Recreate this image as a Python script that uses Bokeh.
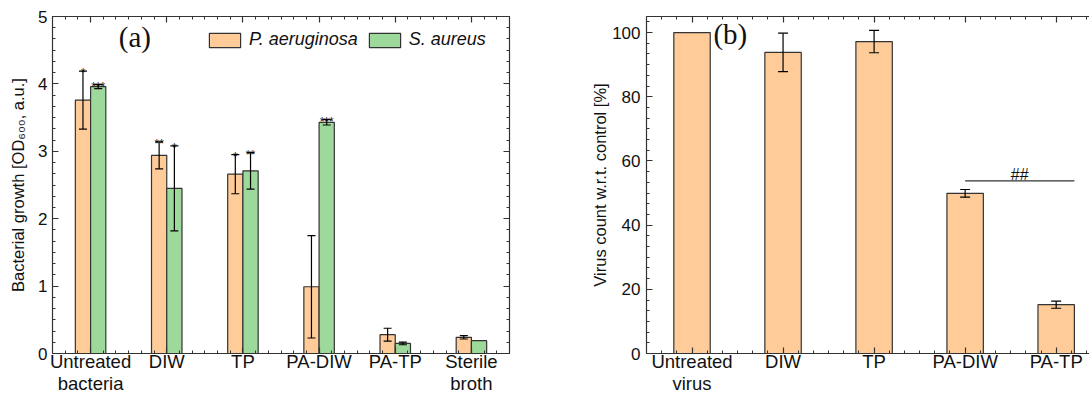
import numpy as np
from bokeh.plotting import figure
from bokeh.models import (ColumnDataSource, Range1d, SingleIntervalTicker, LinearAxis,
                          Whisker, TeeHead, Legend, LegendItem, Label,
                          CustomJSTickFormatter)
from bokeh.layouts import row
from bokeh.embed import file_html
from bokeh.resources import INLINE
from bokeh.core.properties import value

# ---------------- data: panel (a) ----------------
categories_a = ["Untreated\nbacteria", "DIW", "TP", "PA-DIW", "PA-TP", "Sterile\nbroth"]
pa_mean = [3.76, 2.94, 2.66, 0.99, 0.28, 0.24]
pa_err = [0.43, 0.20, 0.29, 0.76, 0.095, 0.025]
pa_stars = ["*", "**", "*", "", "", ""]
sa_mean = [3.96, 2.45, 2.71, 3.43, 0.15, 0.19]
sa_err = [0.03, 0.63, 0.27, 0.04, 0.02, 0.0]
sa_stars = ["***", "*", "**", "***", "", ""]
series_names = ["P. aeruginosa", "S. aureus"]

# ---------------- data: panel (b) ----------------
categories_b = ["Untreated\nvirus", "DIW", "TP", "PA-DIW", "PA-TP"]
virus_mean = [100.0, 93.8, 97.2, 49.9, 15.2]
virus_err = [0.0, 6.0, 3.5, 1.2, 1.1]
bracket_x = [4.0, 5.2]
bracket_y = 53.8
bracket_text = "##"

# ---------------- styles ----------------
ORANGE = "#FFCC99"
GREEN = "#9ED99C"
EDGE = "#333333"
TXT = "#111111"
SANS = "Liberation Sans"
SERIF = "Liberation Serif"


def style_axis(ax, show_labels=True):
    ax.axis_line_color = EDGE
    ax.axis_line_width = 1.2
    ax.major_tick_line_color = EDGE
    ax.minor_tick_line_color = EDGE
    ax.major_tick_line_width = 1.2
    ax.minor_tick_line_width = 1.0
    ax.major_tick_in = 6
    ax.major_tick_out = 0
    ax.minor_tick_in = 3
    ax.minor_tick_out = 0
    ax.major_label_text_font = SANS
    ax.major_label_text_font_size = "17px"
    ax.major_label_text_color = TXT
    ax.axis_label_text_font = SANS
    ax.axis_label_text_font_size = "16.5px"
    ax.axis_label_text_font_style = "normal"
    ax.axis_label_text_color = TXT
    if not show_labels:
        ax.formatter = CustomJSTickFormatter(code="return ''")
        ax.major_label_standoff = 0


def add_whiskers(p, xs, means, errs, head):
    keep = [i for i, e in enumerate(errs) if e > 0]
    esrc = ColumnDataSource(dict(x=[xs[i] for i in keep],
                                 upper=[means[i] + errs[i] for i in keep],
                                 lower=[means[i] - errs[i] for i in keep]))
    p.add_layout(Whisker(source=esrc, base="x", upper="upper", lower="lower",
                         line_color="black", line_width=1.2, level="overlay",
                         upper_head=TeeHead(size=head, line_color="black", line_width=1.2),
                         lower_head=TeeHead(size=head, line_color="black", line_width=1.2)))


def category_axis_labels(ax, cats):
    ax.major_label_overrides = {i + 1: c for i, c in enumerate(cats)}
    ax.major_label_text_font_size = "18.5px"
    ax.major_label_text_line_height = 1.08
    ax.major_label_standoff = -3


# ================= panel (a) =================
xa = np.arange(1, len(categories_a) + 1, dtype=float)
p1 = figure(width=560, height=397, x_range=Range1d(0.5, 6.5), y_range=Range1d(0, 5),
            output_backend="svg", toolbar_location=None,
            min_border_left=52, min_border_right=51, min_border_top=16, min_border_bottom=44)
p1.outline_line_color = None
p1.grid.visible = False

src_pa = ColumnDataSource(dict(x=xa - 0.1, top=pa_mean, stars=pa_stars,
                               upper=np.array(pa_mean) + np.array(pa_err)))
src_sa = ColumnDataSource(dict(x=xa + 0.1, top=sa_mean, stars=sa_stars,
                               upper=np.array(sa_mean) + np.array(sa_err)))

r_pa = p1.vbar(x="x", top="top", width=0.2, source=src_pa, fill_color=ORANGE,
               line_color=EDGE, line_width=1.2)
r_sa = p1.vbar(x="x", top="top", width=0.2, source=src_sa, fill_color=GREEN,
               line_color=EDGE, line_width=1.2)

add_whiskers(p1, list(xa - 0.1), pa_mean, pa_err, 8)
add_whiskers(p1, list(xa + 0.1), sa_mean, sa_err, 8)

for src in (src_pa, src_sa):
    p1.text(x="x", y="upper", text="stars", source=src, text_align="center",
            text_baseline="alphabetic", y_offset=2, text_font=value(SANS),
            text_font_size="12px", text_color=TXT)

p1.xaxis.ticker = SingleIntervalTicker(interval=1, num_minor_ticks=6)
p1.yaxis.ticker = SingleIntervalTicker(interval=1, num_minor_ticks=6)
style_axis(p1.xaxis[0])
style_axis(p1.yaxis[0])
category_axis_labels(p1.xaxis[0], categories_a)
p1.yaxis.axis_label = "Bacterial growth [OD\u2086\u2080\u2080, a.u.]"
p1.yaxis.major_label_standoff = 5
p1.yaxis.axis_label_standoff = 8
ax_top = LinearAxis(ticker=SingleIntervalTicker(interval=1, num_minor_ticks=6))
ax_right = LinearAxis(ticker=SingleIntervalTicker(interval=1, num_minor_ticks=6))
style_axis(ax_top, show_labels=False)
style_axis(ax_right, show_labels=False)
p1.add_layout(ax_top, "above")
p1.add_layout(ax_right, "right")

p1.add_layout(Label(x=1.37, y=4.70, text="(a)", text_font=SERIF, text_font_size="29px",
                    text_color=TXT, text_baseline="alphabetic"))

legend = Legend(items=[LegendItem(label=series_names[0], renderers=[r_pa]),
                       LegendItem(label=series_names[1], renderers=[r_sa])],
                orientation="horizontal", location=(153, 303),
                glyph_width=39, glyph_height=18, label_standoff=5, spacing=7,
                padding=0, margin=0, border_line_color=None, background_fill_alpha=0,
                label_text_font=SANS, label_text_font_style="italic",
                label_text_font_size="18px", label_text_color=TXT, label_height=18)
p1.add_layout(legend)

# ================= panel (b) =================
xb = np.arange(1, len(categories_b) + 1, dtype=float)
p2 = figure(width=529, height=397, x_range=Range1d(0.5, 5.366), y_range=Range1d(0, 105),
            output_backend="svg", toolbar_location=None,
            min_border_left=86, min_border_right=0, min_border_top=15, min_border_bottom=44)
p2.outline_line_color = None
p2.grid.visible = False

src_v = ColumnDataSource(dict(x=xb, top=virus_mean))
p2.vbar(x="x", top="top", width=0.4, source=src_v, fill_color=ORANGE,
        line_color=EDGE, line_width=1.2)
add_whiskers(p2, list(xb), virus_mean, virus_err, 10)

p2.line(x=bracket_x, y=[bracket_y, bracket_y], line_color=EDGE, line_width=1.2)
p2.text(x=[sum(bracket_x) / 2], y=[bracket_y], text=[bracket_text], text_align="center",
        text_baseline="alphabetic", y_offset=-6, text_font=value(SANS),
        text_font_size="16px", text_color=TXT)

p2.xaxis.ticker = SingleIntervalTicker(interval=1, num_minor_ticks=6)
p2.yaxis.ticker = SingleIntervalTicker(interval=20, num_minor_ticks=6)
style_axis(p2.xaxis[0])
style_axis(p2.yaxis[0])
category_axis_labels(p2.xaxis[0], categories_b)
p2.yaxis.axis_label = "Virus count w.r.t. control [%]"
p2.yaxis.major_label_standoff = 6
p2.yaxis.axis_label_standoff = 0
ax_top2 = LinearAxis(ticker=SingleIntervalTicker(interval=1, num_minor_ticks=6))
style_axis(ax_top2, show_labels=False)
p2.add_layout(ax_top2, "above")

p2.add_layout(Label(x=1.235, y=99.5, text="(b)", text_font=SERIF, text_font_size="29px",
                    text_color=TXT, text_baseline="alphabetic"))

layout = row(p1, p2)
open("out.html", "w").write(file_html(layout, INLINE))
